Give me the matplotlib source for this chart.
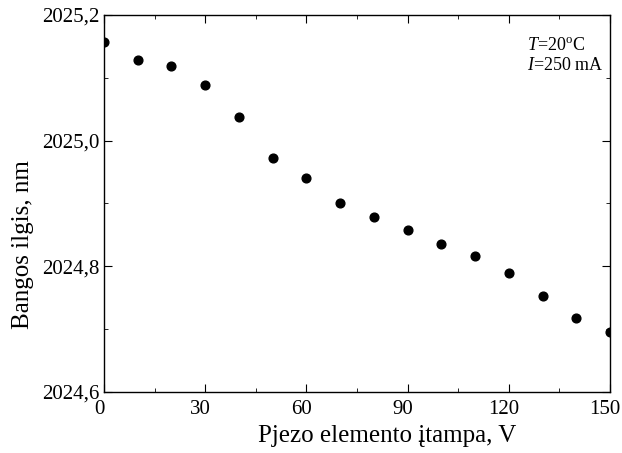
import numpy as np
import matplotlib.pyplot as plt
import matplotlib.transforms as mtransforms
from matplotlib.ticker import MultipleLocator, FuncFormatter

# Measured data
voltage = [0, 10, 20, 30, 40, 50, 60, 70, 80, 90, 100, 110, 120, 130, 140, 150]
wavelength = [2025.157, 2025.129, 2025.119, 2025.089, 2025.037, 2024.973,
              2024.941, 2024.901, 2024.878, 2024.858, 2024.835, 2024.817,
              2024.790, 2024.752, 2024.717, 2024.695]

plt.rcParams['font.family'] = 'Liberation Serif'
plt.rcParams['mathtext.fontset'] = 'custom'
plt.rcParams['mathtext.rm'] = 'Liberation Serif'
plt.rcParams['mathtext.it'] = 'Liberation Serif:italic'

fig = plt.figure(figsize=(6.22, 4.53), dpi=100)
# axes box: x 104..610 px, y 15..392 px
ax = fig.add_axes([104 / 622, 61 / 453, 506 / 622, 377 / 453])

ax.plot(voltage, wavelength, 'o', color='black', markersize=6.3)

ax.set_xlim(0, 150)
ax.set_ylim(2024.6, 2025.2)
ax.xaxis.set_major_locator(MultipleLocator(30))
ax.xaxis.set_minor_locator(MultipleLocator(15))
ax.yaxis.set_major_locator(MultipleLocator(0.2))
ax.yaxis.set_minor_locator(MultipleLocator(0.1))
ax.yaxis.set_major_formatter(FuncFormatter(lambda v, p: f'{v:.1f}'.replace('.', ',')))
ax.tick_params(which='both', direction='in', top=True, right=True, labelsize=15)
ax.tick_params(axis='x', pad=6)
ax.tick_params(which='major', length=5.5)
ax.tick_params(which='minor', length=3)
for s in ax.spines.values():
    s.set_linewidth(1.0)

# x tick labels sit a little left of their ticks in the original
shift = mtransforms.ScaledTranslation(-5 / 100, 0, fig.dpi_scale_trans)
for lbl in ax.get_xticklabels():
    lbl.set_transform(lbl.get_transform() + shift)

ax.set_xlabel('Pjezo elemento įtampa, V', fontsize=18)
ax.xaxis.set_label_coords(0.56, -0.088)
ax.set_ylabel('Bangos ilgis, nm', fontsize=18)
ax.yaxis.set_label_coords(-0.138, 0.39)

ax.text(0.835, 0.92, '$T$=20$^\\mathrm{o}$C', transform=ax.transAxes, fontsize=13, va='center')
ax.text(0.835, 0.865, '$I$=250 mA', transform=ax.transAxes, fontsize=13, va='center')

fig.savefig('out.png', dpi=100)
